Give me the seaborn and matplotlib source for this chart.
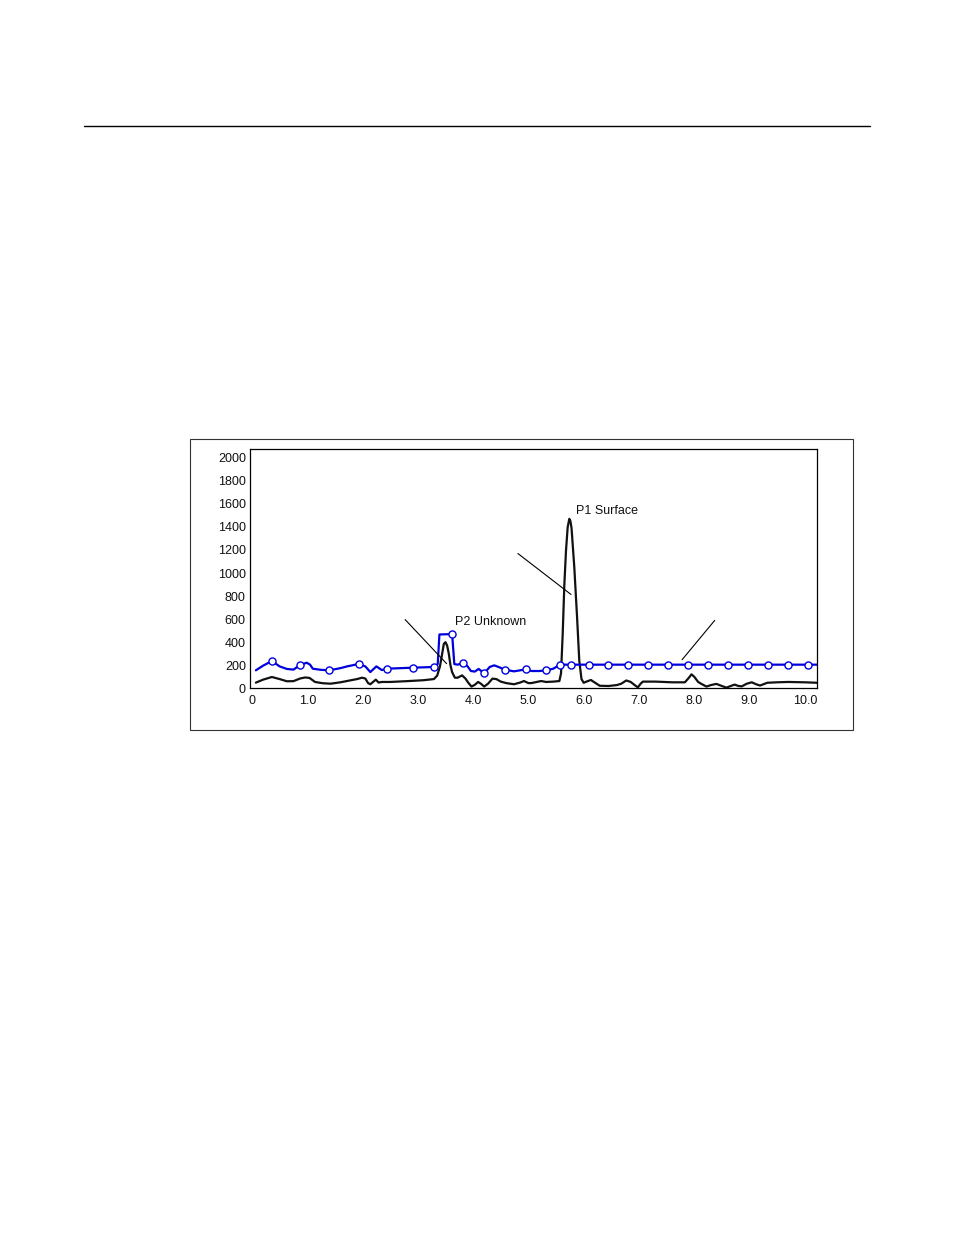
import numpy as np
import pandas as pd
import matplotlib
matplotlib.use("Agg")
import matplotlib.pyplot as plt
import seaborn as sns
from matplotlib.lines import Line2D
from matplotlib.patches import Rectangle

# =====================================
# DATA
# =====================================

# black trace: signal
signal_x = [0.07, 0.20, 0.36, 0.50, 0.63, 0.75, 0.87, 0.96, 1.04, 1.14, 1.28, 1.42,
            1.60, 1.78, 1.90, 1.99, 2.05, 2.10, 2.14, 2.19, 2.24, 2.29, 2.35, 2.50,
            2.80, 3.10, 3.29, 3.35, 3.40, 3.44, 3.47, 3.50, 3.53, 3.56, 3.59, 3.62,
            3.67, 3.72, 3.80, 3.86, 3.91, 3.97, 4.03, 4.09, 4.14, 4.20, 4.27, 4.35,
            4.42, 4.50, 4.60, 4.74, 4.85, 4.92, 5.00, 5.05, 5.15, 5.23, 5.32, 5.45,
            5.56, 5.59, 5.62, 5.65, 5.68, 5.71, 5.74, 5.76, 5.78, 5.83, 5.88, 5.92,
            5.96, 6.00, 6.06, 6.13, 6.20, 6.29, 6.45, 6.60, 6.68, 6.77, 6.85, 6.93,
            6.98, 7.03, 7.07, 7.30, 7.60, 7.83, 7.90, 7.95, 8.00, 8.07, 8.13, 8.22,
            8.30, 8.40, 8.50, 8.58, 8.66, 8.73, 8.80, 8.86, 8.95, 9.04, 9.12, 9.19,
            9.25, 9.32, 9.50, 9.70, 10.00, 10.22]
signal_y = [49, 75, 98, 80, 61, 62, 85, 94, 90, 55, 44, 40,
            52, 69, 80, 92, 85, 45, 35, 55, 75, 50, 55, 55,
            62, 70, 80, 110, 190, 300, 385, 400, 370, 300, 200, 140,
            92, 92, 112, 85, 50, 15, 30, 55, 40, 15, 40, 84,
            80, 58, 45, 35, 50, 63, 45, 45, 55, 63, 55, 58,
            63, 130, 470, 900, 1195, 1397, 1470, 1450, 1390, 1050, 617, 240,
            80, 48, 60, 72, 50, 22, 20, 28, 40, 68, 55, 25,
            8, 40, 58, 58, 52, 52, 90, 121, 100, 55, 38, 15,
            28, 38, 20, 6, 20, 32, 20, 17, 40, 52, 35, 24,
            35, 48, 52, 55, 52, 48]

# blue trace: threshold
thresh_x = [0.07, 0.20, 0.36, 0.50, 0.63, 0.75, 0.87, 0.99, 1.05, 1.10, 1.25, 1.40,
            1.60, 1.72, 1.93, 2.05, 2.14, 2.25, 2.35, 2.44, 2.92, 3.30, 3.36, 3.39,
            3.62, 3.66, 3.72, 3.82, 3.90, 3.96, 4.03, 4.10, 4.20, 4.30, 4.38, 4.46,
            4.57, 4.74, 4.95, 5.05, 5.20, 5.32, 5.45, 5.57, 5.77, 10.22]
thresh_y = [156, 196, 237, 190, 168, 162, 202, 222, 205, 170, 160, 156,
            175, 190, 211, 190, 141, 190, 158, 170, 179, 185, 210, 467,
            470, 210, 205, 220, 190, 150, 145, 168, 130, 185, 199, 185,
            162, 147, 164, 150, 150, 156, 170, 205, 205, 205]

# open circle markers on the blue trace
marker_x = [0.36, 0.87, 1.40, 1.93, 2.44, 2.92, 3.30, 3.62, 3.82, 4.20, 4.57, 4.95,
            5.32, 5.57, 5.77, 6.09, 6.44, 6.80, 7.17, 7.53, 7.89, 8.25, 8.61, 8.97,
            9.34, 9.70, 10.06]
marker_y = [237, 202, 156, 211, 170, 179, 185, 470, 220, 130, 162, 164,
            156, 205, 205, 205, 205, 205, 205, 205, 205, 205, 205, 205,
            205, 205, 205]

# leader lines (start, end)
leader_p2 = ([2.77, 3.52], [596, 214])
leader_p1 = ([4.81, 5.77], [1169, 814])
leader_right = ([8.37, 7.78], [589, 248])

labels = ["P2 Unknown", "P1 Surface"]
label_x = [3.68, 5.86]
label_y = [575, 1535]

x_ticks = [0, 1, 2, 3, 4, 5, 6, 7, 8, 9, 10]
x_tick_labels = ["0", "1.0", "2.0", "3.0", "4.0", "5.0", "6.0", "7.0", "8.0", "9.0", "10.0"]
y_ticks = [0, 200, 400, 600, 800, 1000, 1200, 1400, 1600, 1800, 2000]

signal_df = pd.DataFrame({"x": signal_x, "y": signal_y})
thresh_df = pd.DataFrame({"x": thresh_x, "y": thresh_y})
marker_df = pd.DataFrame({"x": marker_x, "y": marker_y})

# =====================================
# PLOT
# =====================================

sns.set_style("white")
plt.rcParams["font.family"] = ["Liberation Sans", "DejaVu Sans"]

fig = plt.figure(figsize=(9.54, 12.35), dpi=100)
ax = fig.add_axes([250 / 954, 1 - 688.3 / 1235, 567 / 954, 239 / 1235])

sns.lineplot(data=signal_df, x="x", y="y", ax=ax, sort=False,
             color="#111111", linewidth=1.6)
sns.lineplot(data=thresh_df, x="x", y="y", ax=ax, sort=False,
             color="#0000dd", linewidth=1.6)
sns.scatterplot(data=marker_df, x="x", y="y", ax=ax, s=26, color="white",
                edgecolor="#0000dd", linewidth=1.0, zorder=5)

for lx, ly in [leader_p2, leader_p1, leader_right]:
    ax.plot(lx, ly, color="black", linewidth=0.8)

for t, tx, ty in zip(labels, label_x, label_y):
    ax.text(tx, ty, t, fontsize=9, ha="left", va="center", color="#111111")

ax.set_xlim(-0.036, 10.22)
ax.set_ylim(0, 2073)
ax.set_xticks(x_ticks)
ax.set_xticklabels(x_tick_labels)
ax.set_yticks(y_ticks)
ax.set_yticklabels([str(v) for v in y_ticks])
ax.tick_params(axis="both", length=0, labelsize=9, colors="#111111")
ax.tick_params(axis="x", pad=5)
ax.tick_params(axis="y", pad=3)
ax.set_xlabel("")
ax.set_ylabel("")
for sp in ax.spines.values():
    sp.set_color("black")
    sp.set_linewidth(0.9)
    sp.set_visible(True)

# outer frame and top rule
fig.add_artist(Rectangle((190 / 954, 1 - 730 / 1235), 663 / 954, 291 / 1235,
                         transform=fig.transFigure, fill=False,
                         edgecolor="#333333", linewidth=0.8))
fig.add_artist(Line2D([84 / 954, 870 / 954], [1 - 126 / 1235, 1 - 126 / 1235],
                      transform=fig.transFigure, color="black", linewidth=1.0))

fig.savefig("out.png", dpi=100)
